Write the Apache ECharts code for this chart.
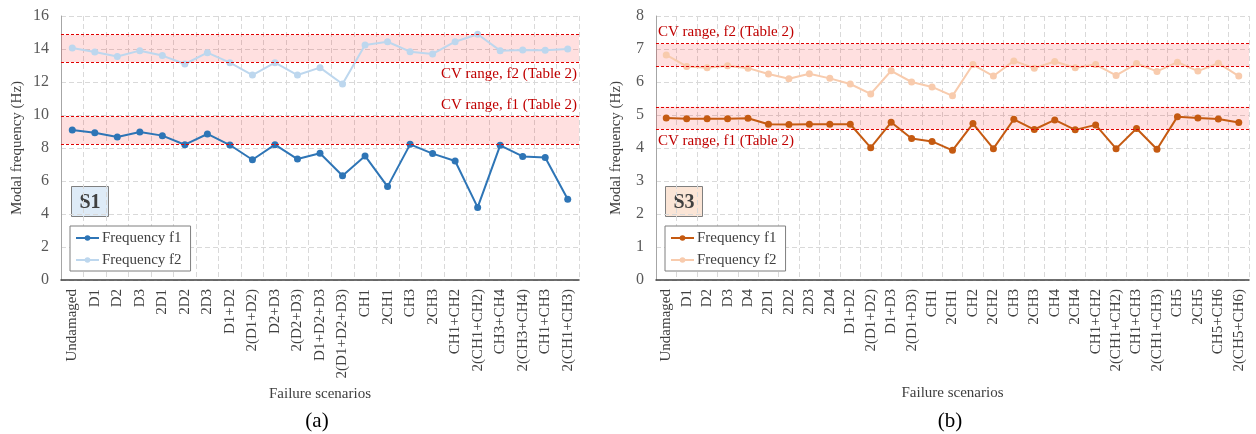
<!DOCTYPE html>
<html>
<head>
<meta charset="utf-8">
<script src="https://cdn.jsdelivr.net/npm/echarts@6/dist/echarts.min.js"></script>
<style>
  html, body { margin: 0; padding: 0; background: #fff; }
  #chart { width: 1256px; height: 434px; }
</style>
</head>
<body>
<div id="chart"></div>
<script>
// ---- data ----
const catsS1 = ['Undamaged', 'D1', 'D2', 'D3', '2D1', '2D2', '2D3', 'D1+D2', '2(D1+D2)', 'D2+D3',
  '2(D2+D3)', 'D1+D2+D3', '2(D1+D2+D3)', 'CH1', '2CH1', 'CH3', '2CH3', 'CH1+CH2', '2(CH1+CH2)',
  'CH3+CH4', '2(CH3+CH4)', 'CH1+CH3', '2(CH1+CH3)'];
const s1f1 = [9.09, 8.93, 8.67, 8.97, 8.75, 8.2, 8.85, 8.18, 7.29, 8.2, 7.33, 7.68, 6.32, 7.52, 5.66,
  8.22, 7.66, 7.21, 4.4, 8.16, 7.49, 7.43, 4.89];
const s1f2 = [14.06, 13.82, 13.54, 13.9, 13.6, 13.09, 13.78, 13.17, 12.42, 13.17, 12.42, 12.87, 11.88,
  14.24, 14.44, 13.84, 13.7, 14.44, 14.89, 13.9, 13.94, 13.92, 14.0];
const s1RangeF1 = [8.25, 9.9];
const s1RangeF2 = [13.2, 14.87];

const catsS3 = ['Undamaged', 'D1', 'D2', 'D3', 'D4', '2D1', '2D2', '2D3', '2D4', 'D1+D2', '2(D1+D2)',
  'D1+D3', '2(D1+D3)', 'CH1', '2CH1', 'CH2', '2CH2', 'CH3', '2CH3', 'CH4', '2CH4', 'CH1+CH2',
  '2(CH1+CH2)', 'CH1+CH3', '2(CH1+CH3)', 'CH5', '2CH5', 'CH5+CH6', '2(CH5+CH6)'];
const s3f1 = [4.91, 4.89, 4.89, 4.89, 4.9, 4.72, 4.71, 4.72, 4.72, 4.72, 4.01, 4.78, 4.29, 4.2, 3.93,
  4.74, 3.98, 4.87, 4.56, 4.85, 4.55, 4.7, 3.98, 4.59, 3.96, 4.95, 4.91, 4.88, 4.77];
const s3f2 = [6.82, 6.47, 6.43, 6.49, 6.42, 6.24, 6.1, 6.25, 6.11, 5.94, 5.64, 6.34, 6.0, 5.85, 5.58,
  6.53, 6.18, 6.64, 6.42, 6.62, 6.43, 6.53, 6.2, 6.56, 6.32, 6.6, 6.33, 6.57, 6.18];
const s3RangeF1 = [4.57, 5.25];
const s3RangeF2 = [6.47, 7.16];

// ---- styles ----
const FONT = '"Liberation Serif", "Times New Roman", serif';
const bandLabel = 'CV range, {f} (Table 2)';

function xAxisFor(cats, gridIndex) {
  return {
    type: 'category', gridIndex, data: cats,
    axisLine: { lineStyle: { color: '#404040', width: 1.5 } },
    axisTick: { show: false },
    axisLabel: { rotate: 90, interval: 0, fontFamily: FONT, fontSize: 15, color: '#404040', margin: 9 },
    splitLine: { show: true, lineStyle: { color: '#d9d9d9', type: [5, 3] } },
    name: 'Failure scenarios', nameLocation: 'middle', nameGap: 106,
    nameTextStyle: { fontFamily: FONT, fontSize: 15, color: '#404040' }
  };
}

function yAxisFor(max, interval, gridIndex, gap) {
  return {
    type: 'value', gridIndex, min: 0, max, interval,
    axisLine: { show: true, lineStyle: { color: '#a6a6a6' } },
    axisTick: { show: false },
    axisLabel: { fontFamily: FONT, fontSize: 16, color: '#595959', margin: 12 },
    splitLine: { lineStyle: { color: '#d9d9d9', type: [5, 3] } },
    name: 'Modal frequency (Hz)', nameLocation: 'middle', nameGap: gap,
    nameTextStyle: { fontFamily: FONT, fontSize: 15, color: '#404040' }
  };
}

function lineSeries(name, data, color, idx) {
  return {
    name, type: 'line', data, xAxisIndex: idx, yAxisIndex: idx,
    symbol: 'circle', symbolSize: 7, z: 2,
    lineStyle: { color, width: 2 }, itemStyle: { color }
  };
}

// band overlay (drawn above the lines, like the original)
function bandSeries(idx, r1, r2, pos1, pos2) {
  const lineLab = (pos, f) => ({
    show: !!pos, position: pos || 'end', formatter: bandLabel.replace('{f}', f),
    fontFamily: FONT, fontSize: 15, color: '#c00000', distance: [2, 4]
  });
  return {
    type: 'line', xAxisIndex: idx, yAxisIndex: idx, data: [], z: 5, silent: true,
    markArea: {
      silent: true,
      itemStyle: { color: 'rgba(255,0,0,0.12)' },
      data: [[{ yAxis: r1[0] }, { yAxis: r1[1] }], [{ yAxis: r2[0] }, { yAxis: r2[1] }]]
    },
    markLine: {
      silent: true, symbol: 'none',
      lineStyle: { color: '#e00000', type: [3, 2], width: 1.2 },
      data: [
        { yAxis: r1[0], label: lineLab(pos1[0], 'f1') },
        { yAxis: r1[1], label: lineLab(pos1[1], 'f1') },
        { yAxis: r2[0], label: lineLab(pos2[0], 'f2') },
        { yAxis: r2[1], label: lineLab(pos2[1], 'f2') }
      ]
    }
  };
}

function legendFor(left, top, names) {
  return {
    left, top, orient: 'vertical', data: names,
    backgroundColor: '#fff', borderColor: '#7f7f7f', borderWidth: 1, borderRadius: 0,
    padding: [4, 9, 3, 5], itemGap: 6, itemWidth: 23, itemHeight: 7,
    formatter: n => 'Frequency ' + n.split(' ')[1],
    textStyle: { fontFamily: FONT, fontSize: 15, lineHeight: 16, color: '#404040', padding: [0, 0, 0, -2] }
  };
}

function tagBox(x, y, text, fill) {
  return {
    type: 'group', left: x, top: y,
    children: [
      { type: 'rect', shape: { x: 0, y: 0, width: 37, height: 30 },
        style: { fill, stroke: '#7f7f7f', lineWidth: 1 } },
      { type: 'text', x: 18.5, y: 16,
        style: { text, fontFamily: FONT, fontSize: 20, fontWeight: 'bold', fill: '#404040',
          align: 'center', verticalAlign: 'middle' } }
    ]
  };
}

function caption(x, text) {
  return { type: 'text', x, y: 421,
    style: { text, fontFamily: FONT, fontSize: 21, fill: '#000', align: 'center', verticalAlign: 'middle' } };
}

const chart = echarts.init(document.getElementById('chart'));
chart.setOption({
  animation: false,
  backgroundColor: '#fff',
  grid: [
    { left: 61, top: 16, width: 518, height: 264 },
    { left: 656, top: 16, width: 593, height: 264 }
  ],
  xAxis: [xAxisFor(catsS1, 0), xAxisFor(catsS3, 1)],
  yAxis: [yAxisFor(16, 2, 0, 36), yAxisFor(8, 1, 1, 32)],
  legend: [
    legendFor(70, 226, ['S1 f1', 'S1 f2']),
    legendFor(665, 226, ['S3 f1', 'S3 f2'])
  ],
  series: [
    lineSeries('S1 f1', s1f1, '#2e75b6', 0),
    lineSeries('S1 f2', s1f2, '#bdd7ee', 0),
    lineSeries('S3 f1', s3f1, '#c55a11', 1),
    lineSeries('S3 f2', s3f2, '#f8cbad', 1),
    bandSeries(0, s1RangeF1, s1RangeF2, [null, 'insideEndTop'], ['insideEndBottom', null]),
    bandSeries(1, s3RangeF1, s3RangeF2, ['insideStartBottom', null], [null, 'insideStartTop'])
  ],
  graphic: [
    tagBox(71, 186, 'S1', '#deebf7'),
    tagBox(665, 186, 'S3', '#fbe5d6'),
    caption(317, '(a)'),
    caption(950, '(b)')
  ]
});
</script>
</body>
</html>
